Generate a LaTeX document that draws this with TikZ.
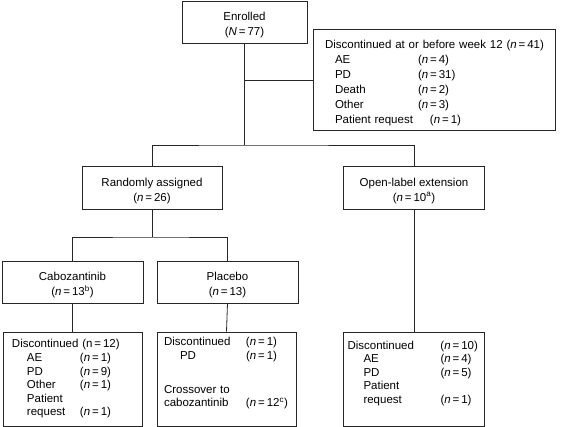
\documentclass[tikz,border=0pt]{standalone}
\usepackage{fontspec}
\setmainfont{Liberation Sans}
\begin{document}
\begin{tikzpicture}[x=1pt,y=-1pt,
	every node/.style={font=\fontsize{11.5}{15}\selectfont},
	box/.style={draw=black!85, line width=0.8pt, align=center, inner sep=0pt},
	list/.style={box, align=left, inner ysep=0pt, font=\fontsize{11.5}{13.6}\selectfont},
	link/.style={draw=black!85, line width=0.8pt}]
	\useasboundingbox (0,0) rectangle (563,427);
	\def\n{\textit{n}\,=\,}
	\def\lift{\rule{0pt}{14.5pt}}
	
	\node[box, minimum width=125pt, minimum height=42pt] (enrolled) at (244.5,22) {\lift Enrolled\\(\textit{N}\,=\,77)};
	\node[list, font=\fontsize{11.5}{15}\selectfont, inner xsep=12pt, text width=218pt, minimum height=101pt] (disc) at (434,80) {%
		\lift\mbox{Discontinued at or before week 12 (\n41)}\\
		\hspace*{10pt}\makebox[83pt][l]{AE}(\n4)\\
		\hspace*{10pt}\makebox[83pt][l]{PD}(\n31)\\
		\hspace*{10pt}\makebox[83pt][l]{Death}(\n2)\\
		\hspace*{10pt}\makebox[83pt][l]{Other}(\n3)\\
		\hspace*{10pt}\makebox[95pt][l]{Patient request}(\n1)};
	
	\node[box, minimum width=140pt, minimum height=43pt] (rand) at (152,187.5) {\lift Randomly assigned\\(\n26)};
	\node[box, minimum width=141pt, minimum height=43pt] (open) at (414,187.5) {\lift Open-label extension\\(\n10\textsuperscript{a})};
	
	\node[box, minimum width=141pt, minimum height=42pt] (cabo) at (72.5,282) {\lift Cabozantinib\\(\n13\textsuperscript{b})};
	\node[box, minimum width=141pt, minimum height=42pt] (plac) at (227.5,282) {\lift Placebo\\(\n13)};
	
	\node[list, inner xsep=9pt, text width=121pt, minimum height=94pt] (cabod) at (72.5,379) {%
		Discontinued (n\,=\,12)\\
		\hspace*{15pt}\makebox[53pt][l]{AE}(\n1)\\
		\hspace*{15pt}\makebox[53pt][l]{PD}(\n9)\\
		\hspace*{15pt}\makebox[53pt][l]{Other}(\n1)\\
		\hspace*{15pt}Patient\\
		\hspace*{15pt}\makebox[53pt][l]{request}(\n1)};
	\node[list, inner xsep=7pt, text width=125pt, minimum height=94pt] (placd) at (226.5,379) {%
		\makebox[82pt][l]{Discontinued}(\n1)\\
		\hspace*{16pt}\makebox[66pt][l]{PD}(\n1)\\[20pt]
		Crossover to\\
		\makebox[82pt][l]{cabozantinib}(\n12\textsuperscript{c})\\
		\mbox{}};
	\node[list, inner xsep=4pt, text width=133pt, minimum height=94pt] (opend) at (414,379) {%
		\makebox[93pt][l]{Discontinued}(\n10)\\
		\hspace*{16pt}\makebox[77pt][l]{AE}(\n4)\\
		\hspace*{16pt}\makebox[77pt][l]{PD}(\n5)\\
		\hspace*{16pt}Patient\\
		\hspace*{16pt}\makebox[77pt][l]{request}(\n1)\\
		\mbox{}};
	
	% enrolled splits
	\coordinate (j1) at (244.5,145);
	\draw[link] (enrolled.south) -- (j1);
	\draw[link] (enrolled.south |- disc.west) -- (disc.west);
	\draw[link] (rand.north) |- (j1) -| (open.north);
	
	% randomised arms
	\coordinate (j2) at (152,237);
	\draw[link] (rand.south) -- (j2);
	\draw[link] (cabo.north) |- (j2) -| (plac.north);
	
	\draw[link] (cabo.south) -- (cabod.north);
	\draw[link] (plac.south) -- (placd.north);
	\draw[link] (open.south) -- (opend.north);
\end{tikzpicture}
\end{document}
